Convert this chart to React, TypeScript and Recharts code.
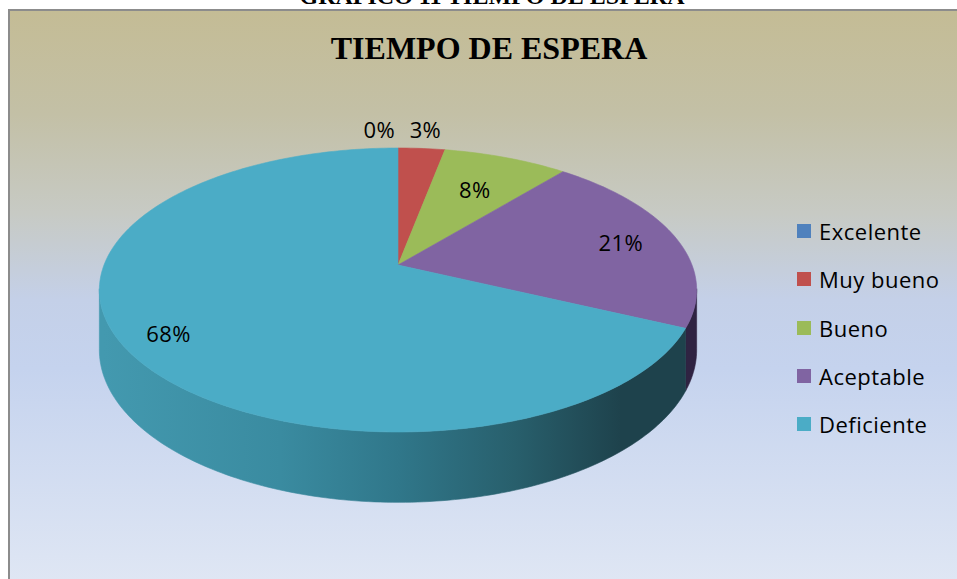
import React from 'react';
import { PieChart, Pie, Legend } from 'recharts';

const categories = ['Excelente', 'Muy bueno', 'Bueno', 'Aceptable', 'Deficiente'];
const percentages = [0, 3, 8, 21, 68];
const colors = ['#4F81BD', '#C0504D', '#9BBB59', '#8064A2', '#4BACC6'];
const wallColors = [
  ['#3B6392', '#22395A'],
  ['#9A3C3A', '#5E2221'],
  ['#7A9545', '#4A5D27'],
  ['#5A4577', '#2F2342'],
  ['#4399AF', '#1E424C'],
];
const chartTitle = 'TIEMPO DE ESPERA';
const caption = 'GRAFICO 11 TIEMPO DE ESPERA';

const data = categories.map((name, i) => ({ name, value: percentages[i], fill: colors[i] }));

const W = 957;
const H = 579;
const CX = 398;
const CY = 265;
const RADIUS = 294;
const K = 0.176; // perspective strength
const SQUASH = 0.468; // vertical tilt
const DEPTH = 58;
const FONT = '"Open Sans", "Noto Sans", sans-serif';

function project(cx: number, cy: number, R: number, r: number, theta: number) {
  const t = (theta * Math.PI) / 180;
  const u = r * Math.sin(t);
  const v = r * Math.cos(t);
  const w = 1 + K * v;
  return [cx + (R * u) / w, cy - (R * SQUASH * v) / w, w];
}

const TopFace = (props: any) => {
  const { cx, cy, outerRadius, startAngle, endAngle, fill } = props;
  const t0 = 90 - startAngle;
  const t1 = 90 - endAngle;
  if (Math.abs(t1 - t0) < 1e-6) return <g />;
  const n = Math.max(2, Math.ceil(Math.abs(t1 - t0)));
  const pts: string[] = [];
  for (let i = 0; i <= n; i++) {
    const p = project(cx, cy, outerRadius, 1, t0 + ((t1 - t0) * i) / n);
    pts.push(`${p[0].toFixed(2)},${p[1].toFixed(2)}`);
  }
  const d = `M${cx},${cy} L${pts.join(' L')} Z`;
  return <path d={d} fill={fill} stroke={fill} strokeWidth={0.6} />;
};

const VIS_LO = (Math.acos(-K) * 180) / Math.PI;
const VIS_HI = 360 - VIS_LO;

const Wall = (props: any) => {
  const { cx, cy, outerRadius, startAngle, endAngle, index } = props;
  const t0 = 90 - startAngle;
  const t1 = 90 - endAngle;
  const lo = Math.max(Math.min(t0, t1), VIS_LO - 0.5);
  const hi = Math.min(Math.max(t0, t1), VIS_HI + 0.5);
  if (hi <= lo) return <g />;
  const n = Math.max(2, Math.ceil(hi - lo));
  const top: number[][] = [];
  for (let i = 0; i <= n; i++) top.push(project(cx, cy, outerRadius, 1, lo + ((hi - lo) * i) / n));
  const bottom = top.map((p) => [p[0], p[1] + DEPTH / p[2]]).reverse();
  const d =
    'M' + top.concat(bottom).map((p) => `${p[0].toFixed(2)},${p[1].toFixed(2)}`).join(' L') + ' Z';
  const id = `wall-${index}`;
  const [c1, c2] = wallColors[index] || ['#555', '#222'];
  return (
    <g>
      <defs>
        <linearGradient id={id} gradientUnits="userSpaceOnUse" x1={cx - outerRadius} y1={0} x2={cx + outerRadius} y2={0}>
          <stop offset="0" stopColor={c1} />
          <stop offset="0.3" stopColor="#3A8BA0" stopOpacity={index === 4 ? 1 : 0} />
          <stop offset="0.5" stopColor="#30778A" stopOpacity={index === 4 ? 1 : 0} />
          <stop offset="0.7" stopColor="#285F6C" stopOpacity={index === 4 ? 1 : 0} />
          <stop offset="0.88" stopColor={c2} />
          <stop offset="1" stopColor={c2} />
        </linearGradient>
      </defs>
      <path d={d} fill={index === 4 ? `url(#${id})` : c2} stroke={index === 4 ? `url(#${id})` : c2} strokeWidth={0.6} />
    </g>
  );
};

const renderLabel = (props: any) => {
  const { cx, cy, outerRadius, midAngle, value, percent } = props;
  const theta = 90 - midAngle;
  const p = percent !== undefined ? percent : value / 100;
  let r = 0.85;
  if (p < 0.05) r = 1.2;
  else if (p < 0.1) r = 0.68;
  else if (p < 0.5) r = 0.8;
  const [x, y] = project(cx, cy, outerRadius, r, theta);
  let anchor: 'middle' | 'end' = 'middle';
  let lx = x;
  if (p < 0.05 && value === 0) {
    anchor = 'end';
    lx = x - 3;
  }
  return (
    <text
      x={lx}
      y={y}
      textAnchor={anchor}
      dominantBaseline="central"
      fill="#000"
      fontFamily={FONT}
      fontSize={22}
      letterSpacing={0.4}
    >
      {`${value}%`}
    </text>
  );
};

const renderLegend = (props: any) => {
  const payload = (props.payload || [])
    .filter((e: any) => e.type !== 'none')
    .slice()
    .sort((a: any, b: any) => categories.indexOf(a.value) - categories.indexOf(b.value));
  return (
    <div style={{ fontFamily: FONT, fontSize: 22, color: '#000', letterSpacing: 0.5 }}>
      {payload.map((e: any, i: number) => (
        <div key={i} style={{ height: 48.3, display: 'flex', alignItems: 'center' }}>
          <span style={{ display: 'inline-block', width: 14, height: 14, background: e.color, marginRight: 8 }} />
          <span>{e.value}</span>
        </div>
      ))}
    </div>
  );
};

export default function App() {
  return (
    <div style={{ position: 'absolute', left: 0, top: 0, width: W, height: H, overflow: 'hidden' }}>
      <svg width={W} height={H} style={{ position: 'absolute', left: 0, top: 0 }}>
        <defs>
          <linearGradient id="bg" x1="0" y1="0" x2="0" y2="1">
            <stop offset="0" stopColor="#C4BC95" />
            <stop offset="0.18" stopColor="#C3C0A6" />
            <stop offset="0.35" stopColor="#C7CAC4" />
            <stop offset="0.5" stopColor="#C4D0E8" />
            <stop offset="0.62" stopColor="#C5D3EE" />
            <stop offset="1" stopColor="#E0E7F4" />
          </linearGradient>
        </defs>
        <rect x={0} y={0} width={W} height={H} fill="#FFFFFF" />
        <rect x={9} y={10} width={W + 10} height={H} fill="url(#bg)" stroke="#8C8C8C" strokeWidth={2} />
        <text
          x={492}
          y={4}
          textAnchor="middle"
          fontFamily='"Liberation Serif", "Times New Roman", serif'
          fontWeight="bold"
          fontSize={24}
          fill="#000"
        >
          {caption}
        </text>
        <text
          x={489}
          y={59}
          textAnchor="middle"
          fontFamily='"Liberation Serif", "Times New Roman", serif'
          fontWeight="bold"
          fontSize={32}
          fill="#000"
        >
          {chartTitle}
        </text>
      </svg>
      <div style={{ position: 'absolute', left: 0, top: 0 }}>
        <PieChart width={W} height={H} margin={{ top: 0, right: 0, bottom: 0, left: 0 }}>
          <Pie
            data={data}
            dataKey="value"
            nameKey="name"
            cx={CX}
            cy={CY}
            outerRadius={RADIUS}
            startAngle={90}
            endAngle={-270}
            isAnimationActive={false}
            legendType="none"
            shape={Wall}
            label={false}
            stroke="none"
          />
          <Pie
            data={data}
            dataKey="value"
            nameKey="name"
            cx={CX}
            cy={CY}
            outerRadius={RADIUS}
            startAngle={90}
            endAngle={-270}
            isAnimationActive={false}
            legendType="square"
            shape={TopFace}
            label={renderLabel}
            labelLine={false}
            stroke="none"
          />
          <Legend
            content={renderLegend}
            layout="vertical"
            align="right"
            verticalAlign="top"
            itemSorter={null as any}
            wrapperStyle={{ position: 'absolute', left: 797, top: 207, width: 160 }}
          />
        </PieChart>
      </div>
    </div>
  );
}
